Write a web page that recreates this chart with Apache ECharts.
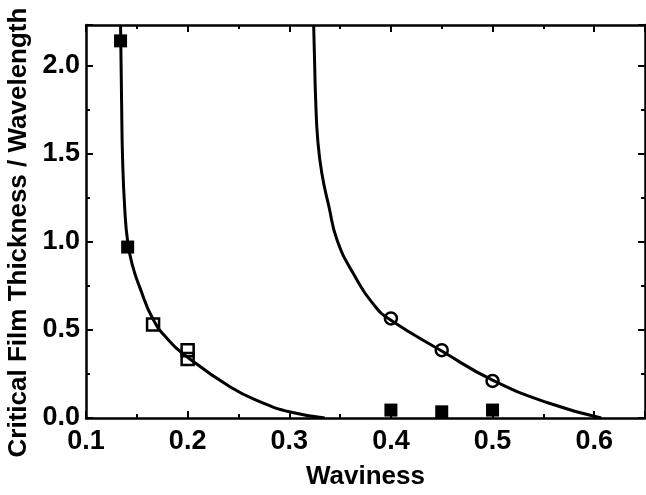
<!DOCTYPE html>
<html><head><meta charset="utf-8">
<script src="https://cdn.jsdelivr.net/npm/echarts@6/dist/echarts.min.js"></script>
<style>html,body{margin:0;padding:0;background:#fff}#c{width:646px;height:495px}</style>
</head><body><div id="c"></div>
<script>
// Data
var filledSquares = [[0.134, 2.14], [0.141, 0.97], [0.4, 0.045], [0.45, 0.035], [0.5, 0.045]];
var openSquares = [[0.166, 0.53], [0.2, 0.385], [0.2, 0.335]];
var openCircles = [[0.4, 0.565], [0.45, 0.385], [0.5, 0.21]];
var curve1 = [[0.134, 2.23], [0.135, 1.8], [0.136, 1.47], [0.138, 1.2], [0.141, 1.0], [0.146, 0.86],
  [0.153, 0.74], [0.166, 0.56], [0.18, 0.45], [0.2, 0.345], [0.242, 0.176], [0.272, 0.09], [0.301, 0.034], [0.335, 0]];
var curve2 = [[0.324, 2.23], [0.325, 2.0], [0.326, 1.8], [0.328, 1.58], [0.332, 1.39], [0.339, 1.2], [0.347, 1.01],
  [0.363, 0.82], [0.385, 0.63], [0.4, 0.555], [0.45, 0.38], [0.5, 0.215], [0.555, 0.085], [0.607, 0]];
var xTicks = {min: 0.1, max: 0.65, interval: 0.1};
var yTicks = {min: 0, max: 2.23, interval: 0.5};

var font = '"Liberation Sans", Arial, sans-serif';
var axisLine = {show: true, onZero: false, lineStyle: {color: '#000', width: 2.5}};
var tick = {inside: true, length: 7, lineStyle: {color: '#000', width: 2}};
var minor = {show: true, splitNumber: 2, length: 4, lineStyle: {color: '#000', width: 2}};
var lbl = {showMaxLabel: false, color: '#000', fontFamily: font, fontWeight: 'bold', fontSize: 27,
  formatter: function (v) { return v.toFixed(1); }};
var chart = echarts.init(document.getElementById('c'));
chart.setOption({
  animation: false,
  grid: {left: 86, top: 25, right: 1, bottom: 77, containLabel: false, outerBoundsMode: 'none'},
  xAxis: [{
    type: 'value', min: xTicks.min, max: xTicks.max, interval: xTicks.interval,
    axisLine: axisLine, axisTick: tick, minorTick: minor, splitLine: {show: false},
    axisLabel: Object.assign({margin: 10}, lbl),
    name: 'Waviness', nameLocation: 'middle', nameGap: 46,
    nameTextStyle: {color: '#000', fontFamily: font, fontWeight: 'bold', fontSize: 26}
  }, {
    type: 'value', position: 'top', min: xTicks.min, max: xTicks.max, interval: xTicks.interval,
    axisLine: axisLine, axisTick: tick, minorTick: minor, splitLine: {show: false}, axisLabel: {show: false}
  }],
  yAxis: [{
    type: 'value', min: yTicks.min, max: yTicks.max, interval: yTicks.interval,
    axisLine: axisLine, axisTick: tick, minorTick: minor, splitLine: {show: false},
    axisLabel: Object.assign({margin: 6}, lbl),
    name: 'Critical Film Thickness / Wavelength', nameLocation: 'middle', nameGap: 48,
    nameTextStyle: {color: '#000', fontFamily: font, fontWeight: 'bold', fontSize: 26, padding: [0, 22, 0, 0]}
  }, {
    type: 'value', position: 'right', min: yTicks.min, max: yTicks.max, interval: yTicks.interval,
    axisLine: axisLine, axisTick: tick, minorTick: minor, splitLine: {show: false}, axisLabel: {show: false}
  }],
  series: [
    {type: 'line', data: curve1, smooth: 0.5, showSymbol: false, lineStyle: {color: '#000', width: 3}, z: 2},
    {type: 'line', data: curve2, smooth: 0.5, showSymbol: false, lineStyle: {color: '#000', width: 3}, z: 2},
    {type: 'scatter', data: filledSquares, symbol: 'rect', symbolSize: 13, itemStyle: {color: '#000', opacity: 1}, z: 3},
    {type: 'scatter', data: openSquares, symbol: 'rect', symbolSize: 12,
      itemStyle: {color: 'rgba(0,0,0,0)', borderColor: '#000', borderWidth: 2.5, opacity: 1}, z: 3},
    {type: 'scatter', data: openCircles, symbol: 'circle', symbolSize: 12,
      itemStyle: {color: 'rgba(0,0,0,0)', borderColor: '#000', borderWidth: 2.5, opacity: 1}, z: 3}
  ]
});
</script></body></html>
